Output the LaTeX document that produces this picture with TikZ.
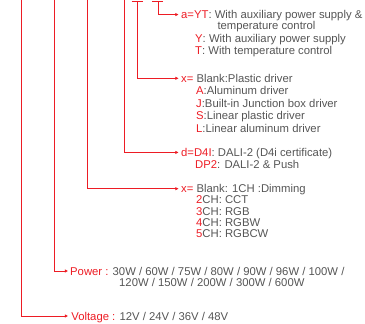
\documentclass[tikz,border=0pt]{standalone}
\usepackage{fontspec}
\setmainfont{Liberation Sans}
\usetikzlibrary{arrows.meta}
\definecolor{lred}{RGB}{237,28,36}
\definecolor{tgray}{RGB}{85,85,85}
\newcommand{\rd}[1]{\textcolor{lred}{#1}}
\tikzset{
  conn/.style={draw=lred, line width=0.9pt},
  arr/.style={conn, -{Triangle[length=3.2pt,width=3pt]}, shorten >=1.5pt},
  txt/.style={anchor=base west, inner sep=0pt, text=tgray, font=\fontsize{11.3}{12}\selectfont},
}
\begin{document}
\begin{tikzpicture}[x=1pt,y=-1pt]
\useasboundingbox (0,0) rectangle (365,324);
% text nodes
\node[txt] (a1) at (181,19)   {\rd{a=YT}: With auxiliary power supply \&};
\node[txt] (a2) at (217.3,29.7) {temperature control};
\node[txt] (a3) at (195,42.5) {\rd{Y}: With auxiliary power supply};
\node[txt] (a4) at (195,54)   {\rd{T}: With temperature control};
\node[txt] (m1) at (181,82.5) {\rd{x=} Blank:Plastic driver};
\node[txt] (m2) at (196,94.9) {\rd{A}:Aluminum driver};
\node[txt] (m3) at (196,107.3) {\rd{J}:Built-in Junction box driver};
\node[txt] (m4) at (196,119.7) {\rd{S}:Linear plastic driver};
\node[txt] (m5) at (196,132.1) {\rd{L}:Linear aluminum driver};
\node[txt] (d1) at (181,156.6) {\rd{d=D4I}: DALI-2 (D4i certificate)};
\node[txt] (d2) at (195,168.3) {\rd{DP2}: DALI-2 \& Push};
\node[txt] (c1) at (181,192.5) {\rd{x=} Blank: 1CH :Dimming};
\node[txt] (c2) at (196,203.8) {\rd{2}CH: CCT};
\node[txt] (c3) at (196,215.1) {\rd{3}CH: RGB};
\node[txt] (c4) at (196,226.5) {\rd{4}CH: RGBW};
\node[txt] (c5) at (196,237.9) {\rd{5}CH: RGBCW};
\node[txt] (p1) at (70,275)   {\rd{Power :} 30W / 60W / 75W / 80W / 90W / 96W / 100W /};
\node[txt] (p2) at (119,286.7) {120W / 150W / 200W / 300W / 600W};
\node[txt] (v1) at (71.2,320) {\rd{Voltage :} 12V / 24V / 36V / 48V};
% top ends of the connectors
\coordinate (tv) at (21.5,0);
\coordinate (tp) at (54,0);
\coordinate (tc) at (87.5,0);
\coordinate (td) at (124.7,0);
\coordinate (tm) at (137.5,1.3);
\coordinate (ta) at (158.7,1.3);
\coordinate (bm1) at (131.7,1.3);
\coordinate (bm2) at (143,1.3);
\coordinate (ba1) at (151.8,1.3);
\coordinate (ba2) at (162.7,1.3);
% T bars
\draw[conn] (bm1) -- (bm2);
\draw[conn] (ba1) -- (ba2);
% connectors
\draw[arr] (ta) |- ([xshift=-1pt,yshift=4.4pt]a1.base west);
\draw[arr] (tm) |- ([xshift=-1pt,yshift=4.2pt]m1.base west);
\draw[arr] (td) |- ([xshift=-1pt,yshift=4.2pt]d1.base west);
\draw[arr] (tc) |- ([xshift=-1pt,yshift=3.8pt]c1.base west);
\draw[arr] (tp) |- ([xshift=-0.5pt,yshift=4pt]p1.base west);
\draw[arr] (tv) |- ([xshift=-1.7pt,yshift=4pt]v1.base west);
\end{tikzpicture}
\end{document}
